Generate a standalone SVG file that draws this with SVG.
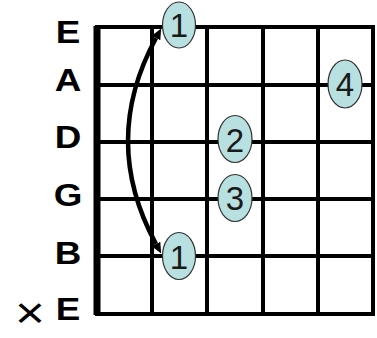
<svg xmlns="http://www.w3.org/2000/svg" width="377" height="338" viewBox="0 0 377 338">
<style>
.grid line{stroke:#000;stroke-width:4;stroke-linecap:square}
.lbl{font-family:"Liberation Sans",Arial,sans-serif;font-weight:bold;font-size:32px;fill:#000;text-anchor:middle}
.dot ellipse{fill:#b9e0e1;stroke:#333;stroke-width:1.2}
.dot text{font-family:"Liberation Sans",Arial,sans-serif;font-size:33px;fill:#1a1a1a;text-anchor:middle}
</style>
<defs>
<marker id="ah" viewBox="0 0 10 10" refX="0" refY="5" markerWidth="2.4" markerHeight="2.4" orient="auto-start-reverse" markerUnits="strokeWidth">
<path d="M0,0.5 L10,5 L0,9.5 z" fill="#000"/>
</marker>
</defs>
<rect width="377" height="338" fill="#fff"/>
<g id="grid" class="grid">
<line x1="97" y1="27" x2="373" y2="27"/>
<line x1="97" y1="85" x2="373" y2="85"/>
<line x1="97" y1="142" x2="373" y2="142"/>
<line x1="97" y1="199" x2="373" y2="199"/>
<line x1="97" y1="256" x2="373" y2="256"/>
<line x1="97" y1="314" x2="373" y2="314"/>
<line x1="152" y1="27" x2="152" y2="314"/>
<line x1="207" y1="27" x2="207" y2="314"/>
<line x1="263" y1="27" x2="263" y2="314"/>
<line x1="318" y1="27" x2="318" y2="314"/>
<line x1="373" y1="27" x2="373" y2="314"/>
<line x1="97" y1="26" x2="97" y2="315" style="stroke-width:7;stroke-linecap:butt"/>
</g>
<g id="labels" transform="translate(68,0) scale(1.15,1) translate(-68,0)">
<text class="lbl" x="68" y="43">E</text>
<text class="lbl" x="68" y="91">A</text>
<text class="lbl" x="68" y="148">D</text>
<text class="lbl" x="68" y="206">G</text>
<text class="lbl" x="68" y="264">B</text>
<text class="lbl" x="68" y="320">E</text>
</g>
<g id="mute" transform="translate(30,0) scale(1.15,1) translate(-30,0)">
<text x="30" y="328" font-family="'Liberation Sans',Arial,sans-serif" font-size="44.5" text-anchor="middle" fill="#000">×</text>
</g>
<g id="connectors">
<path d="M156,38 Q100,141 156,244" fill="none" stroke="#000" stroke-width="4.5" marker-start="url(#ah)" marker-end="url(#ah)"/>
</g>
<g id="f1top" class="dot"><ellipse cx="179" cy="25" rx="16.5" ry="23"/><text x="179" y="37">1</text></g>
<g id="f4" class="dot"><ellipse cx="345" cy="84" rx="17" ry="24"/><text x="345" y="96">4</text></g>
<g id="f2" class="dot"><ellipse cx="235" cy="139" rx="17" ry="23.5"/><text x="235" y="152">2</text></g>
<g id="f3" class="dot"><ellipse cx="235" cy="198" rx="17" ry="23.5"/><text x="235" y="210">3</text></g>
<g id="f1bot" class="dot"><ellipse cx="179" cy="256" rx="16.5" ry="23.5"/><text x="179" y="269">1</text></g>
</svg>
